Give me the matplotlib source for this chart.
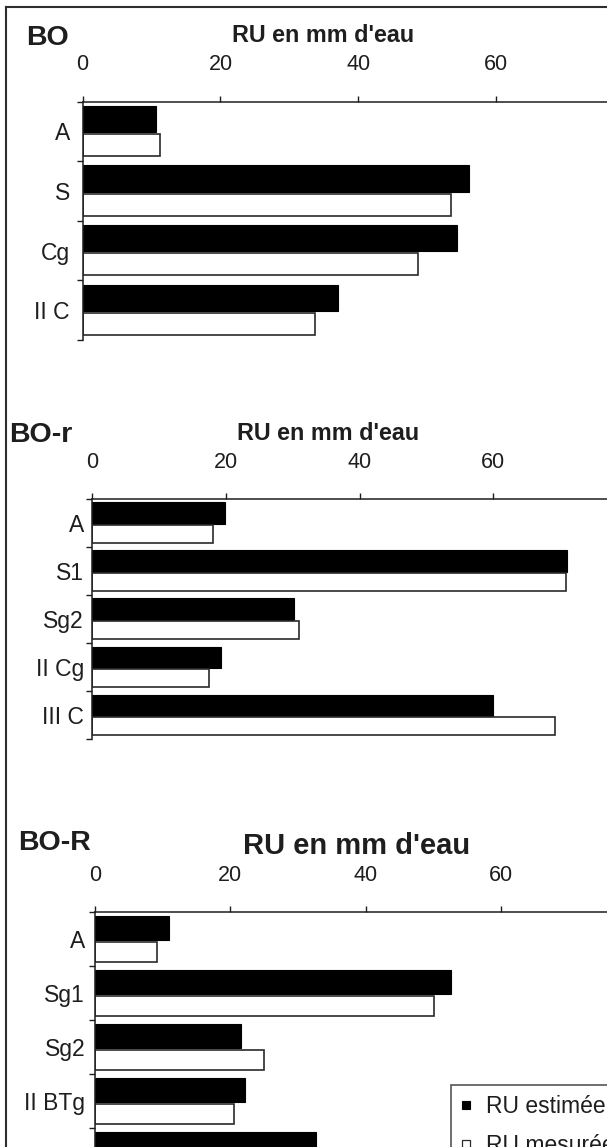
import matplotlib
matplotlib.use("Agg")
import matplotlib.pyplot as plt
from matplotlib.lines import Line2D

plt.rcParams['font.family'] = ['Liberation Sans', 'DejaVu Sans']

# ---- data: RU (mm d'eau) per horizon, estimated vs measured ----
bo_horizons = ['A', 'S', 'Cg', 'II C']
bo_estimee = [10.7, 56.0, 54.3, 37.0]
bo_mesuree = [11.2, 53.5, 48.6, 33.7]

bor_horizons = ['A', 'S1', 'Sg2', 'II Cg', 'III C']
bor_estimee = [19.9, 71.0, 30.2, 19.2, 60.0]
bor_mesuree = [18.1, 70.9, 31.0, 17.4, 69.2]

boR_horizons = ['A', 'Sg1', 'Sg2', 'II BTg', 'III BT']
boR_estimee = [11.0, 52.6, 21.5, 22.2, 32.7]
boR_mesuree = [9.1, 50.1, 25.0, 20.6, 30.0]

x_ticks = [0, 20, 40, 60]
axis_title = "RU en mm d'eau"
legend_labels = ['RU estimée', 'RU mesurée']

W, H = 607, 1147
DPI = 100
fig = plt.figure(figsize=(W / DPI, H / DPI), dpi=DPI)
fig.patch.set_facecolor('white')

INK = '#1e1e1e'
TICK_FS = 15.5
CAT_FS = 16.5


def px_axes(left, top, bottom, xscale, xmax=80):
    width = xmax * xscale
    return fig.add_axes([left / W, 1 - bottom / H, width / W, (bottom - top) / H])


def draw_panel(ax, cats, est, mes, ypad):
    n = len(cats)
    pos = list(range(n))
    b1 = ax.barh([p - 0.21 for p in pos], est, height=0.44, color='black',
                 edgecolor='black', linewidth=0.8)
    b2 = ax.barh([p + 0.23 for p in pos], mes, height=0.37, color='white',
                 edgecolor='#2a2a2a', linewidth=1.2)
    ax.set_xlim(0, 80)
    ax.set_ylim(n - 0.5, -0.5)
    ax.xaxis.tick_top()
    ax.set_xticks(x_ticks)
    ax.set_xticklabels([str(t) for t in x_ticks])
    ax.tick_params(axis='x', which='major', direction='out', length=4,
                   width=1.0, color=INK, pad=15, labelsize=TICK_FS, labelcolor=INK)
    # category boundaries carry the tick marks, labels sit at the centres
    ax.set_yticks([i - 0.5 for i in range(n + 1)])
    ax.set_yticklabels([''] * (n + 1))
    ax.set_yticks(pos, minor=True)
    ax.set_yticklabels(cats, minor=True)
    ax.tick_params(axis='y', which='major', direction='out', length=4,
                   width=1.0, color=INK)
    ax.tick_params(axis='y', which='minor', length=0, pad=ypad,
                   labelsize=CAT_FS, labelcolor=INK)
    for s in ('right', 'bottom'):
        ax.spines[s].set_visible(False)
    for s in ('top', 'left'):
        ax.spines[s].set_color(INK)
        ax.spines[s].set_linewidth(1.1)
    ax.set_facecolor('none')
    return b1, b2


ax1 = px_axes(82.5, 101.7, 340.0, 6.897)
draw_panel(ax1, bo_horizons, bo_estimee, bo_mesuree, ypad=9)
ax2 = px_axes(92.3, 499.0, 739.3, 6.683)
draw_panel(ax2, bor_horizons, bor_estimee, bor_mesuree, ypad=6)
ax3 = px_axes(94.9, 912.3, 1182.3, 6.775)
draw_panel(ax3, boR_horizons, boR_estimee, boR_mesuree, ypad=7)


def ftext(x, y, s, **kw):
    fig.text(x / W, 1 - y / H, s, **kw)


# panel names and axis titles
ftext(26, 38, 'BO', fontsize=20.5, fontweight='bold', color=INK, va='center', ha='left')
ftext(9, 435, 'BO-r', fontsize=20.5, fontweight='bold', color=INK, va='center', ha='left')
ftext(18, 843, 'BO-R', fontsize=20.5, fontweight='bold', color=INK, va='center', ha='left')

ftext(323, 36, axis_title, fontsize=16.8, fontweight='bold', color=INK, va='center', ha='center')
ftext(328, 433, axis_title, fontsize=16.8, fontweight='bold', color=INK, va='center', ha='center')
ftext(357, 846, axis_title, fontsize=21, fontweight='bold', color=INK, va='center', ha='center')

# outer frame (left and top edges)
fig.add_artist(Line2D([5.5 / W, 5.5 / W], [0, 1 - 6.5 / H], color='#2e2e2e', lw=1.5,
                      transform=fig.transFigure))
fig.add_artist(Line2D([5.5 / W, 1], [1 - 6.5 / H, 1 - 6.5 / H], color='#2e2e2e', lw=1.5,
                      transform=fig.transFigure))

# legend with small square keys
handles = [Line2D([], [], linestyle='none', marker='s', markersize=5.5,
                  markerfacecolor='black', markeredgecolor='black', markeredgewidth=0.8),
           Line2D([], [], linestyle='none', marker='s', markersize=5.5,
                  markerfacecolor='white', markeredgecolor='#2a2a2a', markeredgewidth=0.9)]
leg = fig.legend(handles, legend_labels, loc='upper left',
                 bbox_to_anchor=(451 / W, 1 - 1085 / H), bbox_transform=fig.transFigure,
                 frameon=True, fancybox=False, borderaxespad=0, fontsize=16.5,
                 handlelength=0.45, handletextpad=0.65,
                 borderpad=0.42, labelspacing=0.72)
leg.get_frame().set_edgecolor('#2a2a2a')
leg.get_frame().set_linewidth(1.2)
for t in leg.get_texts():
    t.set_color(INK)

fig.savefig('out.png', dpi=DPI)
